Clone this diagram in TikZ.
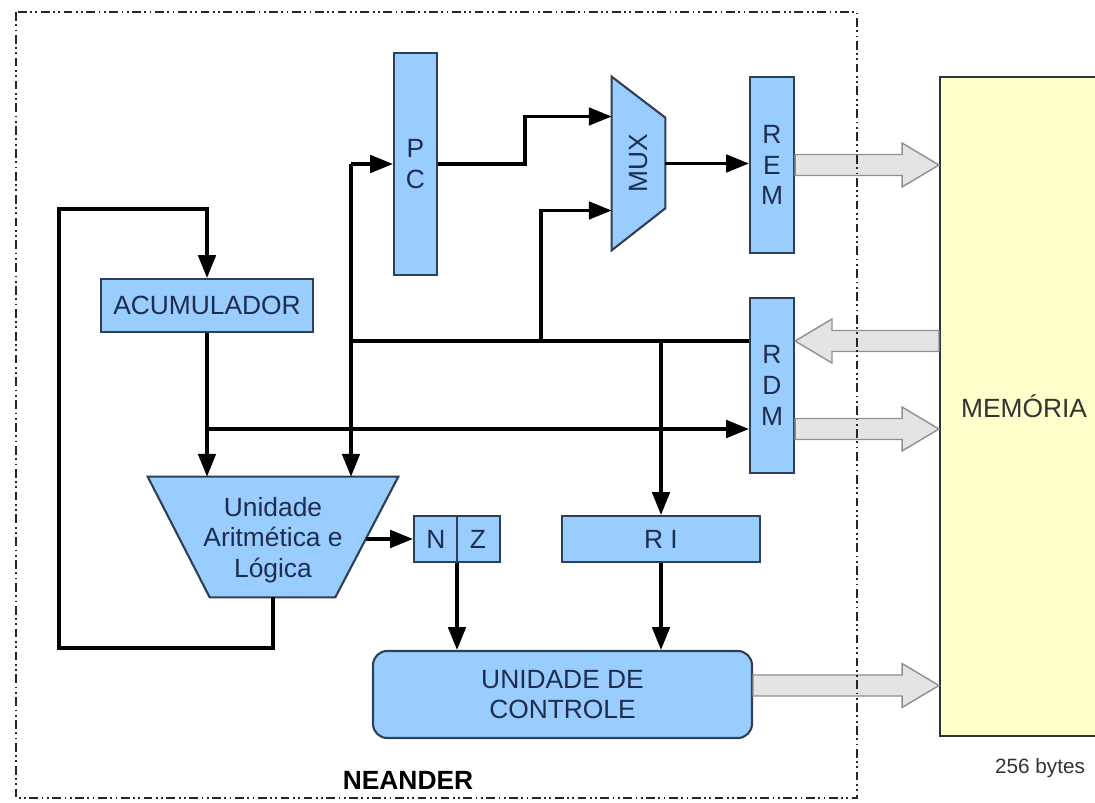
\documentclass[tikz,border=0pt]{standalone}
\usepackage{fontspec}
\setmainfont{Liberation Sans}
\usetikzlibrary{calc}
\usetikzlibrary{arrows.meta}

\definecolor{regblue}{HTML}{99CCFF}
\definecolor{regline}{HTML}{2F3F55}
\definecolor{regtext}{HTML}{1F2D4D}
\definecolor{memfill}{HTML}{FFFFCC}
\definecolor{memline}{HTML}{333333}
\definecolor{busfill}{HTML}{E4E4E4}
\definecolor{busline}{HTML}{8F8F8F}

\tikzset{
  reg/.style={draw=regline, line width=1.2pt, fill=regblue, text=regtext, inner sep=0pt,
              font=\fontsize{15}{17.5}\selectfont, align=center},
  regtxt/.style={text=regtext, font=\fontsize{15}{17.5}\selectfont, align=center},
  regshape/.style={draw=regline, line width=1.2pt, fill=regblue},
  wire/.style={line width=1.8pt, -{Triangle[length=13pt,width=10pt]}},
  plainwire/.style={line width=1.8pt},
  bus/.style={draw=busline, fill=busfill, line width=0.8pt},
  frame/.style={draw=black!85, line width=1.3pt,
                dash pattern=on 5pt off 2pt on 1pt off 2pt on 1pt off 2pt}
}

% wide arrow between two points on one horizontal line
\newcommand{\busarrow}[2]{%
  \draw[bus] let \p1=(#1), \p2=(#2), \p3=($(#2)!21pt!(#1)$) in
    (\x1,\y1+6pt) -- (\x3,\y1+6pt) -- (\x3,\y1+12.5pt) -- (\x2,\y1)
    -- (\x3,\y1-12.5pt) -- (\x3,\y1-6pt) -- (\x1,\y1-6pt) -- cycle;}

\begin{document}
\begin{tikzpicture}[x=0.02cm, y=-0.02cm]
  \path[use as bounding box] (0,0) rectangle (1095,803);
  \clip (0,0) rectangle (1095,803);

  \node [reg, minimum width=4.24cm, minimum height=1.06cm] (acc) at (207,305.5) {ACUMULADOR};
  \node [reg, minimum width=0.86cm, minimum height=4.44cm] (pc) at (415.5,164) {P\\C};

  \node [minimum width=1.06cm, minimum height=3.46cm, inner sep=0pt] (mux) at (638.5,163.5) {};
  \draw [regshape] (mux.north west) -- ($(mux.north east)+(0,41)$)
        -- ($(mux.south east)+(0,-42)$) -- (mux.south west) -- cycle;
  \node [regtxt, rotate=90] (muxlbl) at (mux.center) {MUX};

  \node [reg, minimum width=0.88cm, minimum height=3.52cm] (rem) at (772,165) {R\\E\\M};
  \node [reg, minimum width=0.88cm, minimum height=3.5cm] (rdm) at (772,385.5) {R\\D\\M};

  \node [minimum width=5cm, minimum height=2.4cm, inner sep=0pt] (alu) at (273,537) {};
  \draw [regshape] (alu.north west) -- (alu.north east)
        -- ($(alu.south east)+(-63,0)$) -- ($(alu.south west)+(62,0)$) -- cycle;
  \node [regtxt] (alulbl) at ($(alu.center)+(0,3)$) {Unidade\\Aritmética e\\Lógica};

  \node [reg, minimum width=1.72cm, minimum height=0.92cm] (nz) at (457,539) {};
  \draw [regline, line width=1.2pt] (nz.north) -- (nz.south);
  \node [regtxt] (nzn) at ($(nz.center)+(-21,0)$) {N};
  \node [regtxt] (nzz) at ($(nz.center)+(21,0)$) {Z};

  \node [reg, minimum width=3.96cm, minimum height=0.92cm] (ri) at (661,539) {R I};
  \node [reg, rounded corners=8pt, minimum width=7.58cm, minimum height=1.74cm] (uc) at (562.5,694.5) {UNIDADE DE\\CONTROLE};

  \node [draw=memline, line width=1.2pt, fill=memfill, text=memline, font=\fontsize{15}{17}\selectfont,
         minimum width=3.36cm, minimum height=13.18cm] (mem) at (1024,406.5) {MEMÓRIA};
  \node [text=memline, font=\fontsize{11.8}{13}\selectfont] (size) at (1040,768) {256 bytes};
  \node [font=\fontsize{15}{17}\selectfont\bfseries] (name) at (408,780) {NEANDER};

  \coordinate (busx) at (351,341);
  \coordinate (muxtap) at (541,341);
  \coordinate (dout) at (207,429);
  \coordinate (loopbl) at (59,648);
  \coordinate (looptl) at (59,209);
  \coordinate (ucout) at ($(uc.east)+(0,-9)$);

  \draw [wire] (alu.south) |- (loopbl) -- (looptl) -| (acc.north);
  \draw [wire] (acc.south) -- (acc.south |- alu.north);
  \draw [wire] (dout) -- (dout -| rdm.west);
  \draw [plainwire] (busx) -- (busx -| rdm.west);
  \draw [wire] (busx |- pc.west) -- (pc.west);
  \draw [wire] (busx |- pc.west) -- (busx |- alu.north);
  \draw [wire] (pc.east) -- ++(87,0) |- ($(mux.west)+(0,-47)$);
  \draw [wire] (muxtap) |- ($(mux.west)+(0,47)$);
  \draw [wire] (mux.east) -- (mux.east -| rem.west);
  \draw [wire] (ri.north |- busx) -- (ri.north);
  \draw [wire] ($(nz.west)+(-47,0)$) -- (nz.west);
  \draw [wire] (nz.south) -- (nz.south |- uc.north);
  \draw [wire] (ri.south) -- (ri.south |- uc.north);

  \busarrow{rem.east}{mem.west |- rem.east}
  \busarrow{mem.west |- busx}{rdm.east |- busx}
  \busarrow{rdm.east |- dout}{mem.west |- dout}
  \busarrow{ucout}{mem.west |- ucout}

  \draw [frame] (16,12) rectangle (857,798);
\end{tikzpicture}
\end{document}
